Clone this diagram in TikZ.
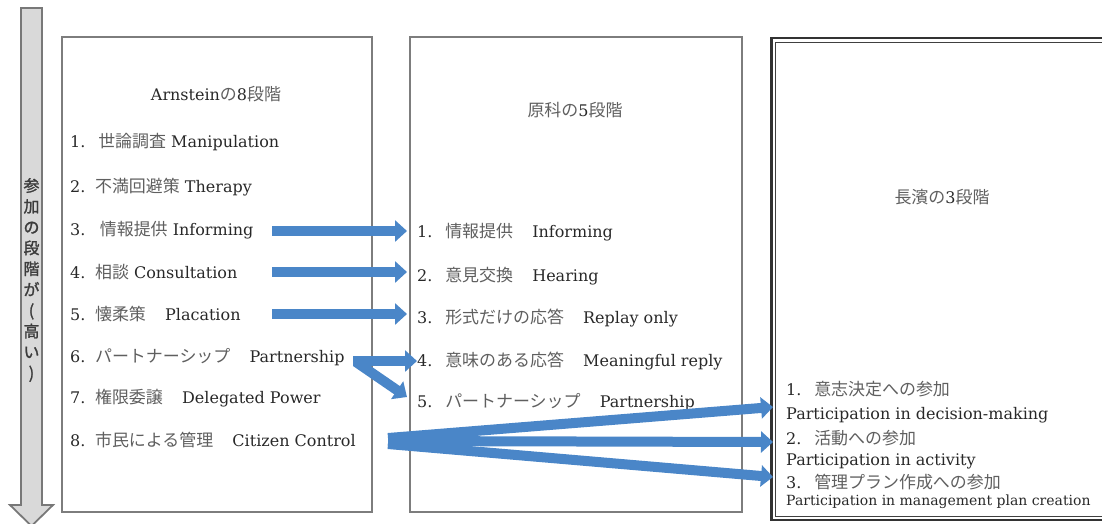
\documentclass[tikz,border=0pt]{standalone}
\usepackage{fontspec}
\setmainfont{DejaVu Serif}
\newfontfamily\jpfont{Noto Sans CJK JP}[Scale=1.06]
\newfontfamily\vtfont{Noto Sans CJK JP}[FakeBold=1.5]
\usetikzlibrary{arrows.meta}
\definecolor{arrowblue}{RGB}{74,134,200}
\definecolor{boxgray}{RGB}{125,125,125}
\definecolor{latin}{RGB}{40,40,40}
\definecolor{jpgray}{RGB}{95,95,95}
\definecolor{shaftfill}{RGB}{217,217,217}
\definecolor{shaftline}{RGB}{120,120,120}
\definecolor{vtext}{RGB}{60,60,60}
\newcommand{\jtxt}[1]{{\jpfont\color{jpgray}#1}}
\begin{document}
\begin{tikzpicture}[x=1pt,y=-1pt,
  font=\fontsize{16}{19}\selectfont,
  box/.style={draw=boxgray,line width=1.4pt},
  item/.style={anchor=west,inner sep=0pt,text=latin},
  ttl/.style={inner sep=0pt,text=latin},
  small/.style={anchor=west,inner sep=0pt,text=latin,font=\fontsize{14}{17}\selectfont},
  barrow/.style={draw=arrowblue,line width=10pt,-{Triangle[length=12pt,width=21pt]}},
  garrow/.style={draw=shaftline,fill=shaftfill,line width=1.8pt,line join=miter}]
\useasboundingbox (0,0) rectangle (1102,523);
\begin{scope}
\clip (0,0) rectangle (1102,523);
% grey level arrow
\draw[garrow] (21,8) -- (42,8) -- (42,505) -- (53,505) -- (31.5,526) -- (10,505) -- (21,505) -- cycle;
% boxes
\draw[box] (62,37) rectangle (372,512);
\draw[box] (410,37) rectangle (742,512);
\draw[draw=black!80,line width=2.6pt] (771.5,38) rectangle (1115,520);
\draw[draw=black!75,line width=0.9pt] (775.5,42) rectangle (1111,516.5);
\end{scope}
\node[text=vtext,align=center,inner sep=0pt,font=\vtfont\fontsize{16}{20.8}\selectfont] (vt) at (31.5,280)
  {参\\加\\の\\段\\階\\が\\(\\高\\い\\)};
% Arnstein
\node[ttl] (A) at (216,94) {Arnstein\jtxt{の}8\jtxt{段階}};
\node[item] (l1) at (70,142) {1.\hspace{0.8em}\jtxt{世論調査} Manipulation};
\node[item] (l2) at (70,187) {2.\hspace{0.6em}\jtxt{不満回避策} Therapy};
\node[item] (l3) at (70,230) {3.\hspace{0.9em}\jtxt{情報提供} Informing};
\node[item] (l4) at (70,272) {4.\hspace{0.6em}\jtxt{相談} Consultation};
\node[item] (l5) at (70,314) {5.\hspace{0.6em}\jtxt{懐柔策}\hspace{1.2em}Placation};
\node[item] (l6) at (70,357) {6.\hspace{0.6em}\jtxt{パートナーシップ}\hspace{1.2em}Partnership};
\node[item] (l7) at (70,398) {7.\hspace{0.6em}\jtxt{権限委譲}\hspace{1.2em}Delegated Power};
\node[item] (l8) at (70,440) {8.\hspace{0.6em}\jtxt{市民による管理}\hspace{1.2em}Citizen Control};
% Harashina
\node[ttl] (H) at (575,110) {\jtxt{原科の}5\jtxt{段階}};
\node[item] (h1) at (417,232) {1.\hspace{0.8em}\jtxt{情報提供}\hspace{1.2em}Informing};
\node[item] (h2) at (417,276) {2.\hspace{0.8em}\jtxt{意見交換}\hspace{1.2em}Hearing};
\node[item] (h3) at (417,318) {3.\hspace{0.8em}\jtxt{形式だけの応答}\hspace{1.2em}Replay only};
\node[item] (h4) at (417,361) {4.\hspace{0.8em}\jtxt{意味のある応答}\hspace{1.2em}Meaningful reply};
\node[item] (h5) at (417,402) {5.\hspace{0.8em}\jtxt{パートナーシップ}\hspace{1.2em}Partnership};
% Nagahama
\node[ttl] (N) at (942,197) {\jtxt{長濱の}3\jtxt{段階}};
\node[item] (n1) at (786,389) {1.\hspace{0.8em}\jtxt{意志決定への参加}};
\node[item] (n1e) at (786,415) {Participation in decision-making};
\node[item] (n2) at (786,438) {2.\hspace{0.8em}\jtxt{活動への参加}};
\node[item] (n2e) at (786,461) {Participation in activity};
\node[item] (n3) at (786,482) {3.\hspace{0.8em}\jtxt{管理プラン作成への参加}};
\node[small] (n3e) at (786,502) {Participation in management plan creation};
% arrow ends
\coordinate (s3) at (272,231);
\coordinate (t3) at (407,231);
\coordinate (s4) at (272,272);
\coordinate (t4) at (407,272);
\coordinate (s5) at (272,314);
\coordinate (t5) at (407,314);
\coordinate (s6) at (353,361);
\coordinate (t6) at (417,361);
\coordinate (s6b) at (356,362);
\coordinate (t6b) at (407,397);
\coordinate (s8a) at (388,438);
\coordinate (s8b) at (388,441);
\coordinate (s8c) at (388,444);
\coordinate (t8a) at (773,407);
\coordinate (t8b) at (773,442);
\coordinate (t8c) at (773,477);
\draw[barrow] (s3) -- (t3);
\draw[barrow] (s4) -- (t4);
\draw[barrow] (s5) -- (t5);
\draw[barrow] (s6) -- (t6);
\draw[barrow] (s6b) -- (t6b);
\draw[barrow] (s8a) -- (t8a);
\draw[barrow] (s8b) -- (t8b);
\draw[barrow] (s8c) -- (t8c);
\end{tikzpicture}
\end{document}
